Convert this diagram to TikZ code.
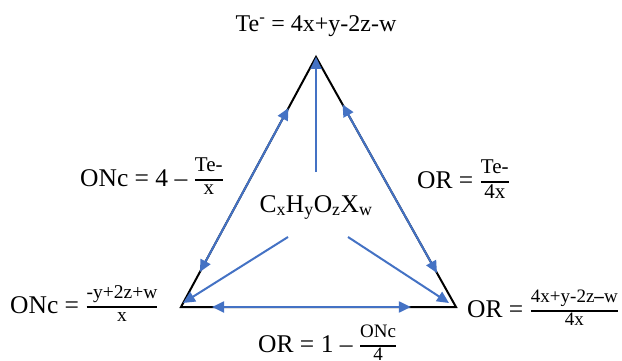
\documentclass[tikz,border=0pt]{standalone}
\usepackage{amsmath}
\usepackage{fontspec}
\setmainfont{Liberation Serif}
\usetikzlibrary{arrows.meta,calc}
\definecolor{ablue}{HTML}{4472C4}
\newcommand\tfr[3]{\ensuremath{\genfrac{}{}{1.6pt}{1}{\hbox{\fontsize{#1}{#1}\selectfont\strut #2}}{\hbox{\fontsize{#1}{#1}\selectfont #3}}}}
\tikzset{
  lab/.style={inner sep=0pt, font=\fontsize{25.5}{30}\selectfont},
  tri/.style={draw=black, line width=2pt, line join=miter},
  barrow/.style={draw=ablue, line width=2pt, -{Triangle[length=12pt,width=11pt]}},
  dbarrow/.style={draw=ablue, line width=2pt, {Triangle[length=12pt,width=11pt]}-{Triangle[length=12pt,width=11pt]}}
}
\begin{document}
\begin{tikzpicture}[x=1pt,y=-1pt]
\useasboundingbox (0,0) rectangle (622,361);
% triangle corners
\coordinate (A) at (316,57);
\coordinate (B) at (181,307);
\coordinate (C) at (456,307);
\draw[tri] (A) -- (B) -- (C) -- cycle;
% labels
\node[lab, anchor=base, font=\fontsize{24}{28}\selectfont] (te) at (316,32) {Te\textsuperscript{-} = 4x+y-2z-w};
\node[lab, anchor=base west] (onc1) at (80,186) {ONc = 4 -- \tfr{21}{Te-}{x}};
\node[lab, anchor=base west] (or1) at (417,188) {OR = \tfr{21}{Te-}{4x}};
\node[lab, anchor=base] (mol) at (316,212) {C\textsubscript{x}H\textsubscript{y}O\textsubscript{z}X\textsubscript{w}};
\node[lab, anchor=base west] (onc2) at (10,313) {ONc = \tfr{19.5}{-y+2z+w}{x}};
\node[lab, anchor=base west] (or2) at (467,317) {OR = \tfr{19}{4x+y-2z\textbf{--}w}{4x}};
\node[lab, anchor=base west] (or3) at (258,352) {OR = 1 -- \tfr{19}{ONc}{4}};
% side arrows
\draw[dbarrow] ($(A)!0.204!(B)$) coordinate (l1) -- ($(A)!0.86!(B)$) coordinate (l2);
\draw[dbarrow] ($(A)!0.19!(C)$) coordinate (r1) -- ($(A)!0.864!(C)$) coordinate (r2);
\draw[dbarrow] ($(B)!0.113!(C)$) coordinate (b1) -- ($(B)!0.836!(C)$) coordinate (b2);
% centre arrows
\coordinate (s1) at (316,172);
\coordinate (s2) at (288,237);
\coordinate (s3) at (348,237);
\coordinate (t2) at (183,303);
\coordinate (t3) at (449,303);
\draw[barrow] (s1) -- (A);
\draw[barrow] (s2) -- (t2);
\draw[barrow] (s3) -- (t3);
\end{tikzpicture}
\end{document}
